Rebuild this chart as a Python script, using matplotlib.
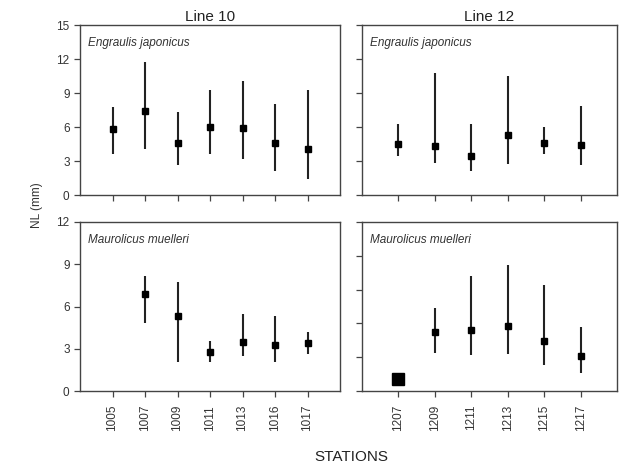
import matplotlib
matplotlib.use("Agg")
import matplotlib.pyplot as plt

plt.rcParams["font.family"] = ["Liberation Sans", "DejaVu Sans"]

# Line 10 stations
st10 = ["1005", "1007", "1009", "1011", "1013", "1016", "1017"]
# Line 12 stations
st12 = ["1207", "1209", "1211", "1213", "1215", "1217"]

# Engraulis japonicus: mean, min, max
ej10_mean = [5.8, 7.4, 4.6, 6.0, 5.9, 4.55, 4.1]
ej10_low = [3.6, 4.1, 2.65, 3.6, 3.2, 2.1, 1.4]
ej10_high = [7.8, 11.7, 7.35, 9.3, 10.1, 8.0, 9.3]

ej12_mean = [4.5, 4.35, 3.4, 5.3, 4.55, 4.4]
ej12_low = [3.45, 2.8, 2.1, 2.7, 3.6, 2.65]
ej12_high = [6.3, 10.8, 6.3, 10.5, 6.0, 7.85]

# Maurolicus muelleri (1005 has no catch, 1207 single fish)
mm10_mean = [None, 6.9, 5.3, 2.75, 3.45, 3.25, 3.4]
mm10_low = [None, 4.8, 2.05, 2.05, 2.5, 2.05, 2.6]
mm10_high = [None, 8.15, 7.75, 3.55, 5.45, 5.3, 4.2]

mm12_mean = [1.05, 5.2, 5.4, 5.8, 4.4, 3.1]
mm12_low = [None, 3.4, 3.2, 3.3, 2.3, 1.6]
mm12_high = [None, 7.4, 10.2, 11.2, 9.45, 5.7]

fig = plt.figure(figsize=(6.25, 4.66), dpi=100)
W, H = 625.0, 466.0

def make_ax(l, r, t, b):
    return fig.add_axes([l / W, 1 - b / H, (r - l) / W, (b - t) / H])

ax_tl = make_ax(80, 340, 25, 195)
ax_tr = make_ax(362, 617, 25, 195)
ax_bl = make_ax(80, 340, 222, 391)
ax_br = make_ax(362, 617, 222, 391)

grey = "#444444"

def draw(ax, stations, mean, low, high, ymax, species, show_x, show_y):
    for i in range(len(stations)):
        if mean[i] is None:
            continue
        if low[i] is not None:
            ax.vlines(i, low[i], high[i], color="#222222", lw=1.5)
            ax.plot(i, mean[i], "s", ms=4, color="black")
        else:
            ax.plot(i, mean[i], "s", ms=8, color="black")
    ax.set_xlim(-1, len(stations))
    ax.set_ylim(0, ymax)
    ax.set_yticks(range(0, ymax + 1, 3))
    ax.set_xticks(range(len(stations)))
    ax.tick_params(direction="out", length=4, color=grey, labelsize=8.5,
                   labelcolor="#333333", width=0.9)
    if show_x:
        ax.set_xticklabels(stations, rotation=90)
        ax.tick_params(axis="x", pad=6)
    else:
        ax.set_xticklabels([])
    if not show_y:
        ax.set_yticklabels([])
    for s in ax.spines.values():
        s.set_color(grey)
        s.set_linewidth(1.0)
    ax.text(0.03, 0.93, species, transform=ax.transAxes, fontstyle="italic",
            fontsize=8.5, color="#333333", va="top", ha="left")

draw(ax_tl, st10, ej10_mean, ej10_low, ej10_high, 15, "Engraulis japonicus", False, True)
draw(ax_tr, st12, ej12_mean, ej12_low, ej12_high, 15, "Engraulis japonicus", False, False)
draw(ax_bl, st10, mm10_mean, mm10_low, mm10_high, 12, "Maurolicus muelleri", True, True)
draw(ax_br, st12, mm12_mean, mm12_low, mm12_high, 15, "Maurolicus muelleri", True, False)

ax_tl.set_title("Line 10", fontsize=11, color="#222222", pad=3)
ax_tr.set_title("Line 12", fontsize=11, color="#222222", pad=3)

fig.text(37 / W, 1 - 205 / H, "NL (mm)", rotation=90, fontsize=8.5,
         color="#333333", ha="center", va="center")
fig.text(351 / W, 1 - 457 / H, "STATIONS", fontsize=11, color="#222222",
         ha="center", va="center")

fig.savefig("out.png", dpi=100)
